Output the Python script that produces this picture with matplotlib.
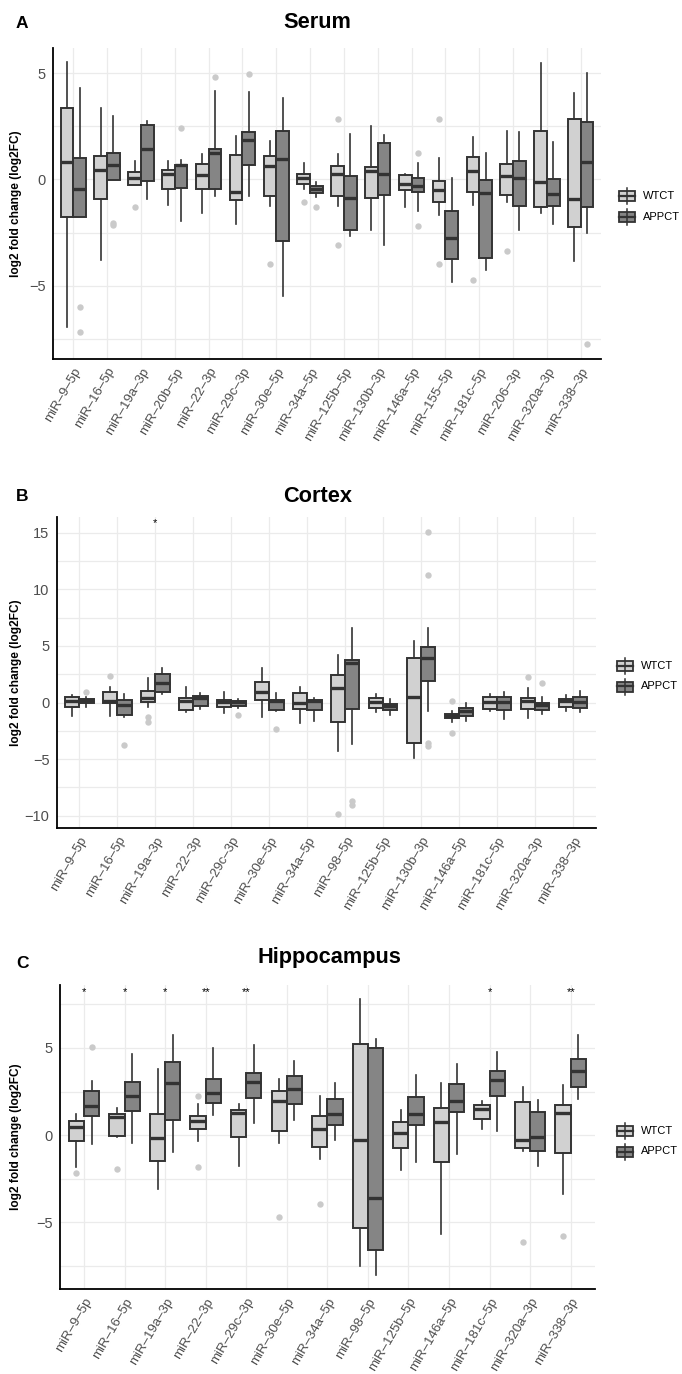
import matplotlib
matplotlib.use('Agg')
import matplotlib.pyplot as plt
from matplotlib.patches import Rectangle
from matplotlib.lines import Line2D

plt.rcParams['font.family'] = ['Liberation Sans', 'DejaVu Sans']

# ---- Panel A: Serum ----
serum_cats = ['miR-9-5p', 'miR-16-5p', 'miR-19a-3p', 'miR-20b-5p', 'miR-22-3p', 'miR-29c-3p',
              'miR-30e-5p', 'miR-34a-5p', 'miR-125b-5p', 'miR-130b-3p', 'miR-146a-5p',
              'miR-155-5p', 'miR-181c-5p', 'miR-206-3p', 'miR-320a-3p', 'miR-338-3p']
serum_wt_lo = [-6.96, -3.81, -0.27, -1.2, -1.57, -2.11, -1.26, -0.43, -1.26, -2.39, -1.29, -1.69, -1.2, -1.07, -1.56, -3.84]
serum_wt_q1 = [-1.76, -0.9, -0.27, -0.44, -0.43, -0.98, -0.76, -0.22, -0.77, -0.88, -0.5, -1.04, -0.61, -0.74, -1.32, -2.24]
serum_wt_med = [0.83, 0.47, 0.05, 0.28, 0.22, -0.58, 0.65, 0.05, 0.25, 0.41, -0.19, -0.5, 0.41, 0.17, -0.11, -0.94]
serum_wt_q3 = [3.35, 1.1, 0.33, 0.46, 0.71, 1.17, 1.1, 0.24, 0.65, 0.6, 0.19, -0.06, 1.07, 0.71, 2.28, 2.83]
serum_wt_hi = [5.56, 3.35, 0.88, 0.85, 1.2, 2.05, 1.81, 0.8, 1.18, 2.52, 0.27, 0.99, 1.98, 2.28, 5.48, 4.06]
serum_wt_out = [[], [], [-1.32], [], [], [], [-3.97], [-1.07], [2.85, -3.07], [], [], [2.83, -4.0], [-4.72], [-3.37], [], []]
serum_app_lo = [-1.76, -0.03, -0.94, -1.97, -0.79, -0.79, -5.5, -0.82, -2.65, -3.07, -1.48, -4.83, -4.25, -2.39, -2.08, -2.5]
serum_app_q1 = [-1.76, -0.03, -0.08, -0.38, -0.44, 0.66, -2.9, -0.66, -2.36, -0.71, -0.61, -3.73, -3.7, -1.23, -1.26, -1.32]
serum_app_med = [-0.43, 0.69, 1.42, 0.69, 1.25, 1.86, 0.96, -0.43, -0.85, 0.28, -0.31, -2.76, -0.63, 0.08, -0.69, 0.83]
serum_app_q3 = [1.02, 1.24, 2.57, 0.69, 1.45, 2.25, 2.28, -0.31, 0.16, 1.73, 0.06, -1.5, -0.03, 0.85, 0.02, 2.69]
serum_app_hi = [4.3, 2.99, 2.76, 0.94, 4.17, 4.11, 3.83, -0.11, 2.14, 2.08, 0.76, 0.05, 1.23, 2.24, 1.76, 5.0]
serum_app_out = [[-6.02, -7.17], [-2.05, -2.16], [], [2.41], [4.83], [4.98], [], [-1.29], [], [], [1.23, -2.17], [], [], [], [], [-7.78]]
serum_stars = {}

# ---- Panel B: Cortex ----
cortex_cats = ['miR-9-5p', 'miR-16-5p', 'miR-19a-3p', 'miR-22-3p', 'miR-29c-3p', 'miR-30e-5p',
               'miR-34a-5p', 'miR-98-5p', 'miR-125b-5p', 'miR-130b-3p', 'miR-146a-5p',
               'miR-181c-5p', 'miR-320a-3p', 'miR-338-3p']
cortex_wt_lo = [-1.15, -1.15, -0.41, -0.85, -0.94, -1.24, -1.82, -4.24, -0.82, -4.88, -1.71, -0.76, -1.41, -0.74]
cortex_wt_q1 = [-0.41, -0.06, 0.09, -0.65, -0.41, 0.24, -0.56, -1.74, -0.47, -3.53, -1.41, -0.59, -0.59, -0.41]
cortex_wt_med = [0.12, 0.12, 0.41, 0.12, 0.09, 0.94, -0.03, 1.24, 0.06, 0.53, -1.15, 0.03, 0.12, 0.12]
cortex_wt_q3 = [0.47, 0.91, 1.06, 0.41, 0.24, 1.85, 0.85, 2.47, 0.41, 3.91, -1.0, 0.47, 0.41, 0.29]
cortex_wt_hi = [0.62, 1.35, 2.15, 1.35, 0.91, 3.06, 1.41, 4.21, 0.71, 5.47, -0.76, 0.76, 1.26, 0.65]
cortex_wt_out = [[], [2.38], [-1.29, -1.68], [], [], [], [], [-9.88], [], [], [0.12, -2.68], [], [2.24], []]
cortex_app_lo = [-0.41, -1.24, 0.71, -0.59, -0.44, -0.76, -1.65, -3.65, -1.06, -0.71, -1.59, -1.44, -1.0, -0.88]
cortex_app_q1 = [-0.06, -1.09, 0.91, -0.29, -0.35, -0.65, -0.62, -0.53, -0.62, 1.94, -1.18, -0.68, -0.65, -0.47]
cortex_app_med = [0.18, -0.26, 1.71, 0.41, 0.06, 0.12, 0.12, 3.53, -0.32, 3.91, -0.71, 0.06, -0.18, 0.06]
cortex_app_q3 = [0.32, 0.18, 2.56, 0.56, 0.15, 0.24, 0.26, 3.79, -0.12, 4.88, -0.47, 0.47, 0.0, 0.47]
cortex_app_hi = [0.47, 0.76, 3.03, 0.82, 0.35, 0.88, 0.41, 6.56, 0.29, 6.59, -0.03, 0.91, 0.47, 1.06]
cortex_app_out = [[0.91], [-3.71], [], [], [-1.06], [-2.35], [], [-8.71, -9.09], [], [15.06, 11.24, -3.56, -3.85], [], [], [1.71], []]
cortex_stars = {'miR-19a-3p': '*'}

# ---- Panel C: Hippocampus ----
hippo_cats = ['miR-9-5p', 'miR-16-5p', 'miR-19a-3p', 'miR-22-3p', 'miR-29c-3p', 'miR-30e-5p',
              'miR-34a-5p', 'miR-98-5p', 'miR-125b-5p', 'miR-146a-5p', 'miR-181c-5p',
              'miR-320a-3p', 'miR-338-3p']
hippo_wt_lo = [-1.8, -0.13, -3.09, -0.34, -1.77, -0.42, -1.37, -7.48, -1.97, -5.67, 0.36, -0.92, -3.38]
hippo_wt_q1 = [-0.34, -0.04, -1.49, 0.38, -0.08, 0.23, -0.69, -5.29, -0.76, -1.55, 0.95, -0.73, -1.03]
hippo_wt_med = [0.44, 1.03, -0.15, 0.8, 1.28, 1.97, 0.34, -0.29, 0.13, 0.76, 1.51, -0.29, 1.26]
hippo_wt_q3 = [0.82, 1.2, 1.2, 1.09, 1.43, 2.54, 1.07, 5.23, 0.76, 1.56, 1.72, 1.91, 1.74]
hippo_wt_hi = [1.2, 1.56, 3.78, 1.77, 1.76, 3.24, 2.25, 7.77, 1.43, 3.0, 1.98, 2.75, 2.86]
hippo_wt_out = [[-2.16], [-1.93], [], [2.25, -1.83], [], [-4.66], [-3.95], [], [], [], [], [-6.09], [-5.76]]
hippo_app_lo = [-0.52, -0.42, -0.99, 1.18, 0.71, 0.86, -0.25, -7.98, -1.53, -1.05, 0.25, -1.74, 2.08]
hippo_app_q1 = [1.09, 1.39, 0.84, 1.87, 2.12, 1.77, 0.61, -6.55, 0.57, 1.32, 2.25, -0.9, 2.77]
hippo_app_med = [1.68, 2.25, 2.96, 2.39, 3.05, 2.63, 1.2, -3.61, 1.2, 1.98, 3.15, -0.13, 3.65]
hippo_app_q3 = [2.54, 3.07, 4.18, 3.23, 3.57, 3.36, 2.06, 5.0, 2.16, 2.94, 3.66, 1.3, 4.39]
hippo_app_hi = [3.09, 4.62, 5.76, 5.0, 5.17, 4.24, 2.96, 5.48, 3.47, 4.1, 4.77, 2.04, 5.76]
hippo_app_out = [[5.06], [], [], [], [], [], [], [], [], [], [], [], []]
hippo_stars = {'miR-9-5p': '*', 'miR-16-5p': '*', 'miR-19a-3p': '*', 'miR-22-3p': '**',
               'miR-29c-3p': '**', 'miR-181c-5p': '*', 'miR-338-3p': '**'}

groups = ['WTCT', 'APPCT']

WT_FILL = '#D1D1D1'
APP_FILL = '#858585'
EDGE = '#333333'
GRID = '#EBEBEB'
TICK_GREY = '#4D4D4D'
OUT_GREY = '#CACACA'

W, H = 682, 1374
fig = plt.figure(figsize=(W / 100, H / 100), dpi=100)


def px_rect(l, t, r, b):
    return [l / W, 1 - b / H, (r - l) / W, (b - t) / H]


def make_stats(lo, q1, med, q3, hi, out):
    return [dict(whislo=a, q1=b, med=c, q3=d, whishi=e, fliers=f)
            for a, b, c, d, e, f in zip(lo, q1, med, q3, hi, out)]


def legend_key(x, y, fill):
    # small boxplot glyph, in figure pixels (x left, y centre from top)
    fig.add_artist(Line2D([(x + 8) / W] * 2, [1 - (y - 8) / H, 1 - (y + 8) / H],
                          transform=fig.transFigure, color=EDGE, lw=1.1))
    fig.add_artist(Rectangle((x / W, 1 - (y + 5) / H), 16 / W, 10 / H, transform=fig.transFigure,
                             facecolor=fill, edgecolor=EDGE, lw=1.3))
    fig.add_artist(Line2D([x / W, (x + 16) / W], [1 - y / H] * 2,
                          transform=fig.transFigure, color=EDGE, lw=1.6))


def panel(rect, cats, wt, app, ylim, major, minor, title, title_x, title_y, letter, letter_y,
          stars, star_y, leg_x, leg_y):
    ax = fig.add_axes(px_rect(*rect))
    n = len(cats)
    pos = list(range(n))
    for stats, off, fill in ((wt, -0.1875, WT_FILL), (app, 0.1875, APP_FILL)):
        ax.bxp(stats, positions=[p + off for p in pos], widths=0.375, patch_artist=True,
               showcaps=False, manage_ticks=False,
               boxprops=dict(facecolor=fill, edgecolor=EDGE, linewidth=1.4),
               medianprops=dict(color=EDGE, linewidth=2.4, solid_capstyle='butt'),
               whiskerprops=dict(color=EDGE, linewidth=1.2),
               flierprops=dict(marker='o', markerfacecolor=OUT_GREY, markeredgecolor='none',
                               markersize=4.6))
    for c, s in stars.items():
        ax.text(cats.index(c), star_y, s, ha='center', va='center', fontsize=8)

    ax.set_xlim(-0.6, n - 0.4)
    ax.set_ylim(*ylim)
    ax.set_xticks(pos)
    ax.set_xticklabels([c.replace('-', '\u2013') for c in cats], rotation=60, ha='right',
                       va='top', rotation_mode='anchor', fontsize=9.5, color=TICK_GREY)
    ax.set_yticks(major)
    ax.set_yticks(minor, minor=True)
    ax.tick_params(axis='both', which='both', length=0, labelsize=10.5, labelcolor=TICK_GREY)
    ax.tick_params(axis='x', pad=5, labelsize=9.5)
    ax.tick_params(axis='y', pad=5)
    ax.grid(which='both', color=GRID, lw=0.9)
    ax.set_axisbelow(True)
    for s in ['top', 'right']:
        ax.spines[s].set_visible(False)
    for s in ['left', 'bottom']:
        ax.spines[s].set_linewidth(1.3)
        ax.spines[s].set_color('black')
    ax.set_ylabel('log2 fold change (log2FC)', fontsize=8.6, fontweight='bold')
    ax.yaxis.set_label_coords(-(rect[0] - 22) / (rect[2] - rect[0]), 0.5)

    fig.text(title_x / W, 1 - title_y / H, title, ha='center', va='center',
             fontsize=15.7, fontweight='bold')
    fig.text(16 / W, 1 - letter_y / H, letter, ha='left', va='center',
             fontsize=12.5, fontweight='bold')

    for i, (g, fill) in enumerate(zip(groups, [WT_FILL, APP_FILL])):
        yy = leg_y + i * 20.5
        legend_key(leg_x, yy, fill)
        fig.text((leg_x + 24) / W, 1 - yy / H, g, ha='left', va='center', fontsize=8)
    return ax


panel((53, 48, 601, 358.7), serum_cats,
      make_stats(serum_wt_lo, serum_wt_q1, serum_wt_med, serum_wt_q3, serum_wt_hi, serum_wt_out),
      make_stats(serum_app_lo, serum_app_q1, serum_app_med, serum_app_q3, serum_app_hi, serum_app_out),
      (-8.45, 6.2), [-5, 0, 5], [-7.5, -2.5, 2.5], 'Serum', 317, 22, 'A', 23,
      serum_stars, 0, 619, 196)

panel((56.5, 517.3, 596, 827.7), cortex_cats,
      make_stats(cortex_wt_lo, cortex_wt_q1, cortex_wt_med, cortex_wt_q3, cortex_wt_hi, cortex_wt_out),
      make_stats(cortex_app_lo, cortex_app_q1, cortex_app_med, cortex_app_q3, cortex_app_hi, cortex_app_out),
      (-11.05, 16.35), [-10, -5, 0, 5, 10, 15], [-7.5, -2.5, 2.5, 7.5, 12.5], 'Cortex', 318, 497, 'B', 497,
      cortex_stars, 15.8, 617, 666)

panel((59.7, 985, 595, 1289), hippo_cats,
      make_stats(hippo_wt_lo, hippo_wt_q1, hippo_wt_med, hippo_wt_q3, hippo_wt_hi, hippo_wt_out),
      make_stats(hippo_app_lo, hippo_app_q1, hippo_app_med, hippo_app_q3, hippo_app_hi, hippo_app_out),
      (-8.81, 8.6), [-5, 0, 5], [-7.5, -2.5, 2.5, 7.5], 'Hippocampus', 329, 957, 'C', 963,
      hippo_stars, 8.2, 617, 1131)

fig.savefig('out.png', dpi=100, facecolor='white')
